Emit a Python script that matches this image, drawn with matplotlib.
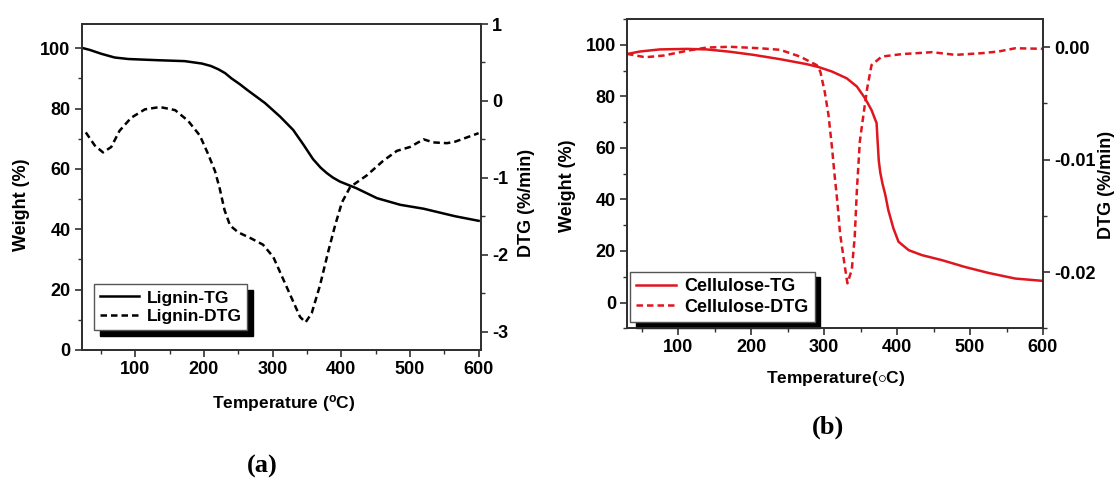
import numpy as np
import matplotlib
matplotlib.use("Agg")
import matplotlib.pyplot as plt
from matplotlib.ticker import MultipleLocator, FormatStrFormatter

# ---------------- data ----------------
# (a) Lignin
lig_tg_T = [24, 34, 51, 70, 90, 133, 172, 197, 210, 221, 231, 240, 252, 264,
            289, 311, 330, 345, 359, 370, 379, 388, 398, 410, 422, 452, 486,
            520, 566, 600]
lig_tg_W = [100, 99.4, 98.1, 96.9, 96.4, 96.0, 95.7, 94.9, 94.1, 93.0, 91.7,
            90.0, 88.1, 86.0, 81.8, 77.3, 72.9, 68.0, 63.2, 60.4, 58.6, 57.1,
            55.8, 54.7, 53.6, 50.3, 48.1, 46.8, 44.3, 42.8]
lig_dtg_T = [28, 41, 53, 65, 77, 94, 114, 136, 158, 177, 194, 206, 216, 223,
             230, 238, 250, 269, 286, 301, 315, 330, 340, 348, 357, 369, 381,
             391, 401, 413, 437, 461, 481, 500, 520, 534, 554, 566, 600]
lig_dtg_D = [-0.41, -0.58, -0.67, -0.60, -0.39, -0.22, -0.11, -0.08, -0.12,
             -0.26, -0.45, -0.69, -0.91, -1.14, -1.42, -1.62, -1.71, -1.79,
             -1.87, -2.03, -2.31, -2.61, -2.81, -2.88, -2.76, -2.40, -1.96,
             -1.62, -1.32, -1.12, -0.97, -0.78, -0.65, -0.60, -0.50, -0.54,
             -0.55, -0.53, -0.42]

# (b) Cellulose
cel_tg_T = [30, 48, 75, 112, 139, 171, 203, 240, 276, 292, 311, 331, 345, 356,
            365, 372, 373.5, 375, 377, 380, 384, 388, 395, 402, 416, 434, 462,
            493, 525, 562, 600]
cel_tg_W = [96.4, 97.4, 98.2, 98.4, 98.2, 97.3, 96.1, 94.4, 92.5, 91.4, 89.6,
            87.0, 83.8, 79.3, 74.7, 69.6, 62.0, 55.0, 50.5, 46.2, 41.7, 35.9,
            28.8, 23.6, 20.3, 18.4, 16.4, 13.8, 11.5, 9.3, 8.4]
cel_dtg_T = [30, 55, 80, 112, 139, 171, 212, 240, 267, 290, 295, 301, 306, 311,
             314, 318, 322, 328, 332, 338, 342, 345, 349, 354, 359, 365, 379,
             407, 448, 480, 516, 539, 562, 600]
cel_dtg_D = [-0.0006, -0.0009, -0.00075, -0.00033, -0.00004, 0.00003, -0.0001,
             -0.00024, -0.00084, -0.0016, -0.0022, -0.0040, -0.0060, -0.0090,
             -0.0111, -0.0136, -0.0166, -0.0193, -0.0210, -0.0198, -0.0169,
             -0.0127, -0.0084, -0.0060, -0.0037, -0.0016, -0.00084, -0.00062,
             -0.00045, -0.00069, -0.00054, -0.00039, -0.0001, -0.00015]

RED = '#e0161e'
SANS = ['Liberation Sans', 'DejaVu Sans']
SERIF = ['Liberation Serif', 'DejaVu Serif']

plt.rcParams['font.family'] = SANS
plt.rcParams['font.weight'] = 'bold'
plt.rcParams['axes.labelweight'] = 'bold'
plt.rcParams['axes.unicode_minus'] = False
plt.rcParams['mathtext.fontset'] = 'custom'
plt.rcParams['mathtext.rm'] = 'Liberation Sans:bold'
plt.rcParams['mathtext.it'] = 'Liberation Sans:bold'
plt.rcParams['mathtext.bf'] = 'Liberation Sans:bold'

W, H = 1114, 479
fig = plt.figure(figsize=(W / 100, H / 100), dpi=100)
fig.patch.set_facecolor('white')


def px_axes(x0, x1, top, bottom):
    return fig.add_axes([x0 / W, 1 - bottom / H, (x1 - x0) / W, (bottom - top) / H])


def style(ax, ax2):
    for a in (ax, ax2):
        for s in a.spines.values():
            s.set_linewidth(1.3)
            s.set_color('#303030')
        a.tick_params(which='major', direction='out', length=5, width=1.2,
                      labelsize=13, color='#303030', pad=3)
        a.tick_params(which='minor', direction='out', length=3, width=1.0,
                      color='#303030')
    ax.tick_params(axis='both', which='both', top=False, right=False)
    ax2.tick_params(axis='y', which='both', left=False, right=True)
    for t in ax.get_xticklabels() + ax.get_yticklabels() + ax2.get_yticklabels():
        t.set_fontweight('bold')


LW = 1.8
DASH = (0, (2.6, 1.6))

# ---------------- panel (a) ----------------
axa = px_axes(81.7, 481, 24, 350)
axa2 = axa.twinx()
l1, = axa.plot(lig_tg_T, lig_tg_W, color='black', lw=LW, label='Lignin-TG')
l2, = axa2.plot(lig_dtg_T, lig_dtg_D, color='black', lw=LW, ls=DASH, label='Lignin-DTG')
axa.set_xlim(22, 603.5)
axa.set_ylim(0, 108)
axa2.set_ylim(-3.24, 1.0)
axa.xaxis.set_major_locator(MultipleLocator(100))
axa.xaxis.set_minor_locator(MultipleLocator(50))
axa.yaxis.set_major_locator(MultipleLocator(20))
axa.yaxis.set_minor_locator(MultipleLocator(10))
axa2.yaxis.set_major_locator(MultipleLocator(1))
axa2.yaxis.set_minor_locator(MultipleLocator(0.5))
style(axa, axa2)
axa.set_xlabel('Temperature ($\\mathregular{^o}$C)', fontsize=12.5, fontweight='bold')
axa.set_ylabel('Weight (%)', fontsize=13, fontweight='bold')
axa2.set_ylabel('DTG (%/min)', fontsize=13, fontweight='bold')
axa.xaxis.set_label_coords(0.505, -0.163)
axa.xaxis.label.set_va('center')
axa.yaxis.set_label_coords(-0.152, 0.445)
axa.yaxis.label.set_va('center')
axa2.yaxis.set_label_coords(1.115, 0.452)
axa2.yaxis.label.set_va('center')

shadow = {'ox': 4, 'oy': -4, 'facecolor': 'black', 'edgecolor': 'black', 'alpha': 1}
lega = axa.legend(handles=[l1, l2], loc='upper left', bbox_to_anchor=(0.0316, 0.2015),
                  borderaxespad=0, fancybox=False, shadow=shadow, framealpha=1,
                  edgecolor='#555555', prop={'family': SANS, 'weight': 'bold', 'size': 12.5},
                  handlelength=2.2, handletextpad=0.45, labelspacing=0.2,
                  borderpad=0.35)
lega.get_frame().set_linewidth(1.0)

# ---------------- panel (b) ----------------
axb = px_axes(627, 1043, 19, 328.3)
axb2 = axb.twinx()
m1, = axb.plot(cel_tg_T, cel_tg_W, color=RED, lw=LW, label='Cellulose-TG')
m2, = axb2.plot(cel_dtg_T, cel_dtg_D, color=RED, lw=LW, ls=DASH, label='Cellulose-DTG')
axb.set_xlim(30, 600)
axb.set_ylim(-10, 110)
axb2.set_ylim(-0.025, 0.0025)
axb.xaxis.set_major_locator(MultipleLocator(100))
axb.xaxis.set_minor_locator(MultipleLocator(50))
axb.yaxis.set_major_locator(MultipleLocator(20))
axb.yaxis.set_minor_locator(MultipleLocator(10))
axb2.yaxis.set_major_locator(MultipleLocator(0.01))
axb2.yaxis.set_minor_locator(MultipleLocator(0.005))
axb2.yaxis.set_major_formatter(FormatStrFormatter('%.2f'))
axb.yaxis.set_major_formatter(FormatStrFormatter('%d'))
style(axb, axb2)
axb.set_xlabel('Temperature($\\circ$C)', fontsize=12.5, fontweight='bold')
axb.set_ylabel('Weight (%)', fontsize=13, fontweight='bold')
axb2.set_ylabel('DTG (%/min)', fontsize=13, fontweight='bold')
axb.xaxis.set_label_coords(0.5005, -0.162)
axb.xaxis.label.set_va('center')
axb.yaxis.set_label_coords(-0.143, 0.461)
axb.yaxis.label.set_va('center')
axb2.yaxis.set_label_coords(1.1534, 0.463)
axb2.yaxis.label.set_va('center')

legb = axb.legend(handles=[m1, m2], loc='upper left', bbox_to_anchor=(0.0072, 0.183),
                  borderaxespad=0, fancybox=False, shadow=shadow, framealpha=1,
                  edgecolor='#555555', prop={'family': SANS, 'weight': 'bold', 'size': 13},
                  handlelength=2.2, handletextpad=0.45, labelspacing=0.2,
                  borderpad=0.35)
legb.get_frame().set_linewidth(1.0)

# panel captions
fig.text(262 / W, 1 - 466 / H, '(a)', family=SERIF, weight='bold', fontsize=19,
         ha='center', va='center')
fig.text(828 / W, 1 - 427 / H, '(b)', family=SERIF, weight='bold', fontsize=19,
         ha='center', va='center')

fig.savefig('out.png', dpi=100, facecolor='white')
